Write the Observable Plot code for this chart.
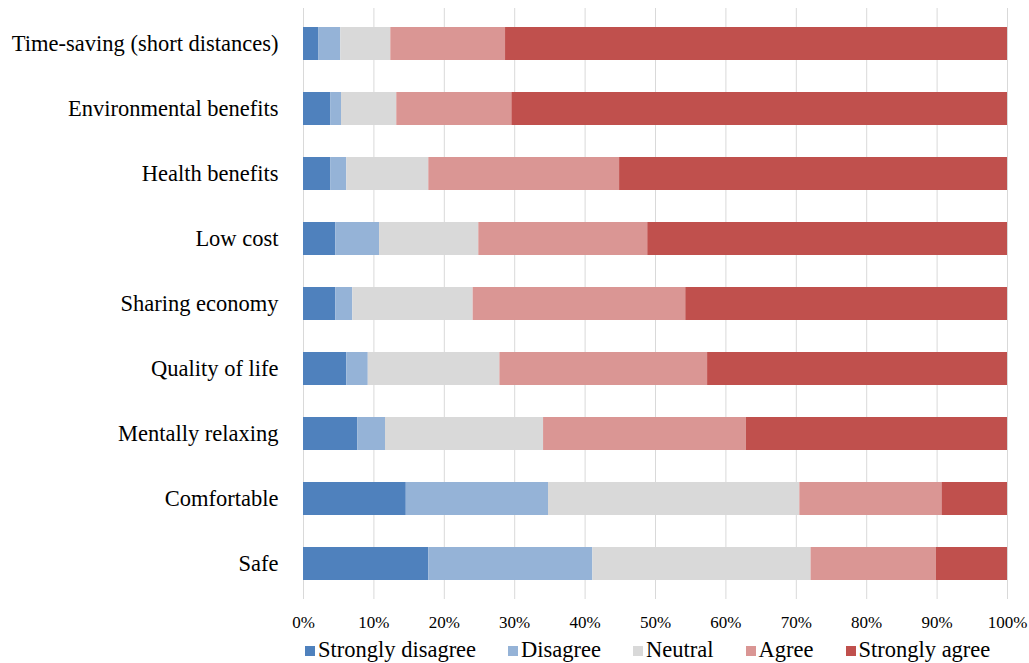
<!DOCTYPE html>
<html>
<head>
<meta charset="utf-8">
<script src="https://cdn.jsdelivr.net/npm/d3@7"></script>
<script src="https://cdn.jsdelivr.net/npm/@observablehq/plot@0.6"></script>
<style>
  html, body { margin: 0; padding: 0; background: #fff; }
  body { width: 1029px; height: 663px; overflow: hidden; font-family: "Liberation Serif", serif; }
  svg text { font-family: "Liberation Serif", serif !important; font-variant: normal !important; fill: #000; }
  #legend { display: flex; gap: 32px; margin-left: 305px; margin-top: 3px; font-family: "Liberation Serif", serif !important; font-size: 22.5px; line-height: 24px; color: #000; }
  #legend .item { display: flex; align-items: center; }
  #legend .sw { width: 10px; height: 10px; margin-right: 3px; margin-top: 2px; }
</style>
</head>
<body>
<div id="chart"></div>
<div id="legend"></div>
<script>
const categories = [
  "Time-saving (short distances)",
  "Environmental benefits",
  "Health benefits",
  "Low cost",
  "Sharing economy",
  "Quality of life",
  "Mentally relaxing",
  "Comfortable",
  "Safe"
];
const responses = ["Strongly disagree", "Disagree", "Neutral", "Agree", "Strongly agree"];
const stronglyDisagree = [2.2, 3.9, 3.9, 4.6, 4.6, 6.15, 7.7, 14.6, 17.8];
const disagree         = [3.1, 1.5, 2.25, 6.2, 2.4, 3.05, 3.95, 20.2, 23.3];
const neutral          = [7.1, 7.85, 11.65, 14.1, 17.1, 18.7, 22.45, 35.7, 31.0];
const agree            = [16.3, 16.35, 27.1, 24.0, 30.2, 29.5, 28.8, 20.2, 17.8];
const stronglyAgree    = [71.3, 70.4, 55.1, 51.1, 45.7, 42.6, 37.1, 9.3, 10.1];
const colors = ["#4f81bd", "#95b3d7", "#d9d9d9", "#da9694", "#c0504d"];
const xTicks = [0, 10, 20, 30, 40, 50, 60, 70, 80, 90, 100];

const series = [stronglyDisagree, disagree, neutral, agree, stronglyAgree];
const data = [];
categories.forEach((c, i) => {
  responses.forEach((r, j) => {
    data.push({category: c, response: r, value: series[j][i], order: j});
  });
});

const fontFamily = '"Liberation Serif", serif';

const chart = Plot.plot({
  width: 1029,
  height: 635,
  marginLeft: 303,
  marginRight: 22,
  marginTop: 8,
  marginBottom: 36,
  style: {fontFamily, color: "#000", background: "#fff"},
  x: {domain: [0, 100], ticks: xTicks, tickFormat: d => d + "%", label: null},
  y: {domain: categories, paddingInner: 0.5, paddingOuter: 0.25, label: null},
  color: {domain: responses, range: colors},
  marks: [
    Plot.gridX(xTicks, {stroke: "#d9d9d9", strokeOpacity: 1, strokeWidth: 1}),
    Plot.barX(data, Plot.stackX({
      x: "value",
      y: "category",
      fill: "response",
      order: responses,
      inset: 0
    })),
    Plot.axisX({ticks: xTicks, tickFormat: d => d + "%", tickSize: 0, tickPadding: 16, fontSize: 17, label: null}),
    Plot.axisY({tickSize: 0, tickPadding: 25, fontSize: 22.5, label: null})
  ]
});
document.getElementById("chart").appendChild(chart);

const legend = document.getElementById("legend");
responses.forEach((r, j) => {
  const item = document.createElement("div");
  item.className = "item";
  const sw = document.createElement("span");
  sw.className = "sw";
  sw.style.background = colors[j];
  const t = document.createElement("span");
  t.textContent = r;
  item.appendChild(sw);
  item.appendChild(t);
  legend.appendChild(item);
});
</script>
</body>
</html>
